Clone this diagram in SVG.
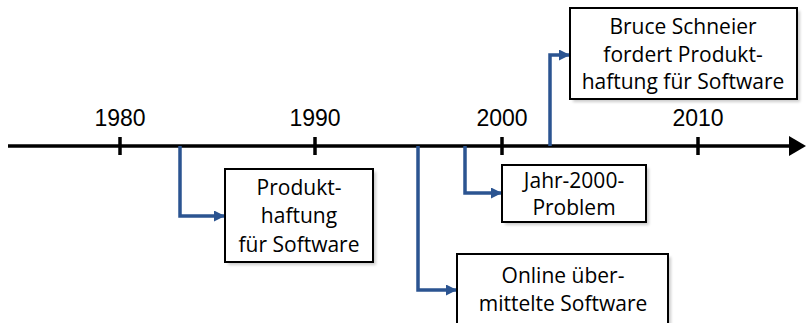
<svg xmlns="http://www.w3.org/2000/svg" width="806" height="323" viewBox="0 0 806 323">
<style>
.box{fill:#fff;stroke:#000;stroke-width:2}
.shadow{fill:#000;opacity:0.2}
.t{font-family:"Open Sans","Noto Sans",sans-serif;font-size:21px;fill:#000;text-anchor:middle}
.yr{font-family:"Liberation Sans",Arial,sans-serif;font-size:23px;fill:#000;text-anchor:middle}
.con{fill:none;stroke:#2B5491;stroke-width:3.5}
.tick{stroke:#000;stroke-width:3.5}
</style>
<defs>
<marker id="ah" markerWidth="11" markerHeight="11" refX="10" refY="5.5" orient="auto" markerUnits="userSpaceOnUse">
<path d="M0,0 L11,5.5 L0,11 Z" fill="#2B5491"/>
</marker>
<filter id="sh" x="-5%" y="-5%" width="115%" height="120%">
<feGaussianBlur stdDeviation="1.5"/>
</filter>
</defs>
<g id="axis">
<line x1="8" y1="146" x2="792" y2="146" stroke="#000" stroke-width="3.5"/>
<path d="M789,136 L806,146 L789,156 Z" fill="#000"/>
<line class="tick" x1="120" y1="137" x2="120" y2="155"/>
<line class="tick" x1="315" y1="137" x2="315" y2="155"/>
<line class="tick" x1="502" y1="137" x2="502" y2="155"/>
<line class="tick" x1="698" y1="137" x2="698" y2="155"/>
<text class="yr" x="120" y="126">1980</text>
<text class="yr" x="315" y="126">1990</text>
<text class="yr" x="502" y="126">2000</text>
<text class="yr" x="698" y="126">2010</text>
</g>
<g id="connectors">
<path class="con" d="M180,146 V216 H224" marker-end="url(#ah)"/>
<path class="con" d="M418,146 V290 H456" marker-end="url(#ah)"/>
<path class="con" d="M465,146 V193 H501" marker-end="url(#ah)"/>
<path class="con" d="M550,146 V55 H569" marker-end="url(#ah)"/>
</g>
<g id="n1">
<rect class="shadow" x="228" y="172" width="148" height="93" filter="url(#sh)"/>
<rect class="box" x="225" y="169" width="148" height="93"/>
<text class="t" x="299" y="195">Produkt-</text>
<text class="t" x="299" y="223">haftung</text>
<text class="t" x="299" y="252">für Software</text>
</g>
<g id="n2">
<rect class="shadow" x="460" y="257" width="211" height="70" filter="url(#sh)"/>
<rect class="box" x="457" y="254" width="211" height="70"/>
<text class="t" x="563" y="283">Online über-</text>
<text class="t" x="563" y="311">mittelte Software</text>
</g>
<g id="n3">
<rect class="shadow" x="505" y="168" width="144" height="57" filter="url(#sh)"/>
<rect class="box" x="502" y="165" width="144" height="57"/>
<text class="t" x="574" y="188">Jahr-2000-</text>
<text class="t" x="574" y="215">Problem</text>
</g>
<g id="n4">
<rect class="shadow" x="573" y="11" width="227" height="91" filter="url(#sh)"/>
<rect class="box" x="570" y="8" width="227" height="91"/>
<text class="t" x="683" y="34">Bruce Schneier</text>
<text class="t" x="683" y="62">fordert Produkt-</text>
<text class="t" x="683" y="89">haftung für Software</text>
</g>
</svg>
